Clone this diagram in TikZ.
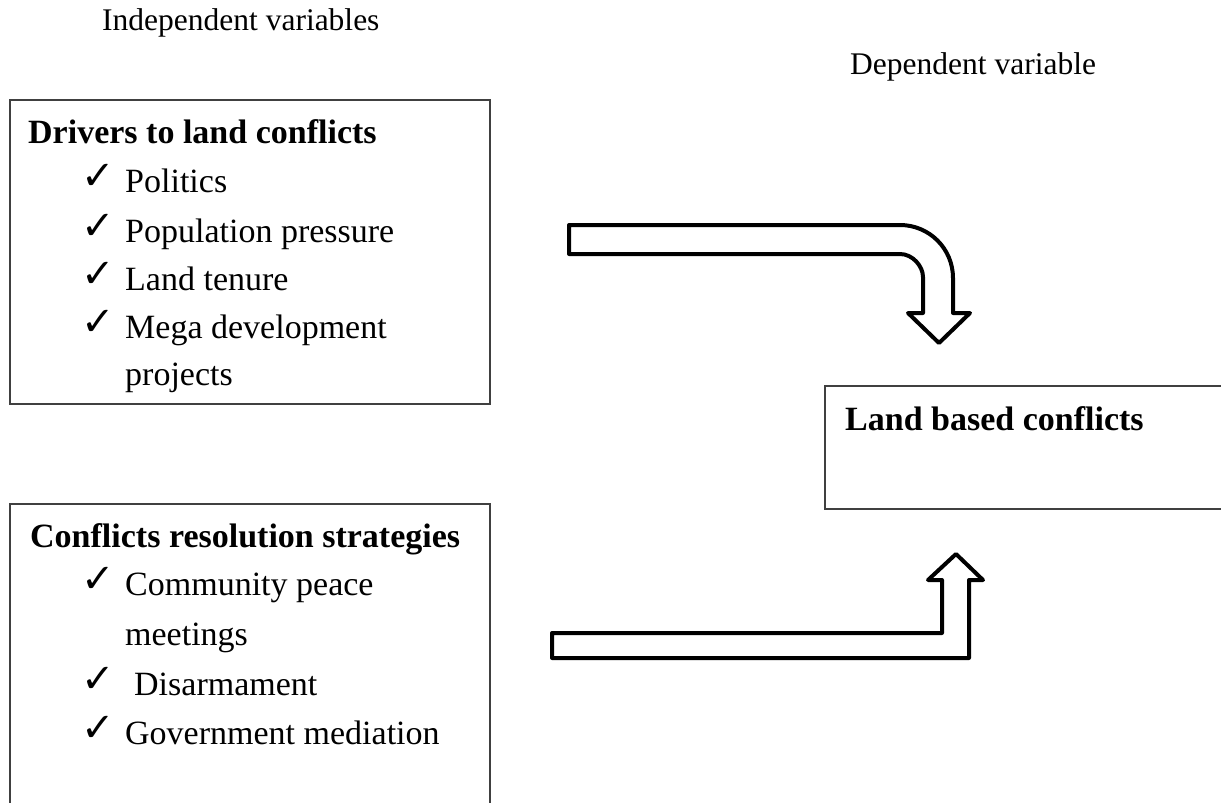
\documentclass[tikz,border=0pt]{standalone}
\usepackage{fontspec}
\setmainfont{Liberation Serif}
\newfontfamily\checkfont{DejaVu Sans}
\begin{document}
\begin{tikzpicture}[x=1pt,y=-1pt,
  boxline/.style={draw=black!75, line width=2pt, inner sep=0pt},
  blockarrow/.style={draw=black, line width=4pt, line join=round, fill=white},
  bodytext/.style={font=\fontsize{34}{48}\selectfont, anchor=base west, inner sep=0pt},
  labeltext/.style={font=\fontsize{31.5}{38}\selectfont, anchor=base west, inner sep=0pt},
  titletext/.style={font=\fontsize{34}{48}\selectfont\bfseries, anchor=base west, inner sep=0pt},
  tick/.style={font=\checkfont\fontsize{40}{44}\selectfont, anchor=base west, inner sep=0pt, yshift=3pt}]
\clip (0,0) rectangle (1221,803);
\fill[white] (0,0) rectangle (1221,803);

% labels
\node[labeltext] (indep) at (102,30) {Independent variables};
\node[labeltext] (dep) at (850,74) {Dependent variable};

% boxes
\node[boxline, anchor=north west, minimum width=480pt, minimum height=304pt] (drivers) at (9,99) {};
\node[boxline, anchor=north west, minimum width=480pt, minimum height=330pt] (strategies) at (9,503) {};
\node[boxline, anchor=north west, minimum width=430pt, minimum height=123pt] (outcome) at (824,385) {};

% box 1 text
\node[titletext] (t1) at (28,143) {Drivers to land conflicts};
\node[tick] (c1) at (81,192) {✓};
\node[bodytext] (i1) at (125,192) {Politics};
\node[tick] (c2) at (81,242) {✓};
\node[bodytext] (i2) at (125,242) {Population pressure};
\node[tick] (c3) at (81,290) {✓};
\node[bodytext] (i3) at (125,290) {Land tenure};
\node[tick] (c4) at (81,338) {✓};
\node[bodytext] (i4) at (125,338) {Mega development};
\node[bodytext] (i4b) at (125,385) {projects};

% box 2 text
\node[titletext] (t2) at (30,547) {Conflicts resolution strategies};
\node[tick] (d1) at (81,595) {✓};
\node[bodytext] (j1) at (125,595) {Community peace};
\node[bodytext] (j1b) at (125,645) {meetings};
\node[tick] (d2) at (81,695) {✓};
\node[bodytext] (j2) at (134,695) {Disarmament};
\node[tick] (d3) at (81,744) {✓};
\node[bodytext] (j3) at (125,744) {Government mediation};

% box 3 text
\node[titletext] (t3) at (845,430) {Land based conflicts};

% block arrows
\coordinate (a1start) at (569,225);
\coordinate (a1tip) at (939,343);
\draw[blockarrow] (a1start) -- (900,225)
  .. controls (929.3,225) and (953,248.7) .. (953,278)
  -- (953,313) -- (970,313) -- (a1tip) -- (908,313) -- (923,313) -- (923,277)
  .. controls (923,266.3) and (912.7,254) .. (900,254)
  -- (569,254) -- cycle;

\coordinate (a2start) at (552,633);
\coordinate (a2tip) at (956,554);
\draw[blockarrow] (a2start) -- (942,633) -- (942,580) -- (928,580) -- (a2tip)
  -- (983,580) -- (969,580) -- (969,658) -- (552,658) -- cycle;
\end{tikzpicture}
\end{document}
